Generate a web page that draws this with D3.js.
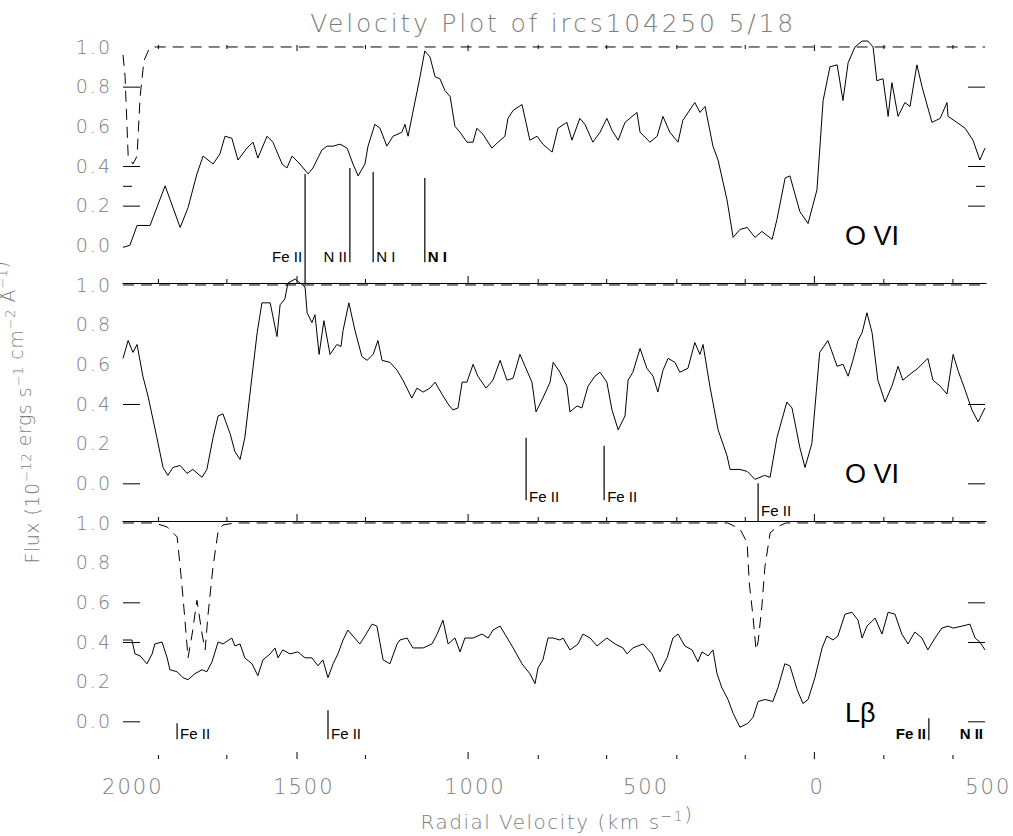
<!DOCTYPE html>
<html>
<head>
<meta charset="utf-8">
<script src="https://cdn.jsdelivr.net/npm/d3@7"></script>
<style>
  body { margin: 0; background: #fff; }
  svg text { font-family: "Liberation Sans", Arial, sans-serif; }
  .axt { fill: #7d7d7d; font-family: "DejaVu Sans", sans-serif; font-weight: 200; }
</style>
</head>
<body>
<div id="chart"></div>
<script>

// ---- data (velocity km/s, normalised flux) ----

var titleText = "Velocity Plot of ircs104250  5/18";

// O VI panel (top)
var obsP1 = [[2027,-0.01],[2007,0.0],[1986,0.10],[1948,0.10],[1904,0.30],[1860,0.09],[1837,0.19],[1811,0.36],[1793,0.45],[1764,0.41],[1744,0.46],[1729,0.55],[1709,0.54],[1691,0.43],[1665,0.49],[1647,0.52],[1633,0.44],[1606,0.55],[1589,0.52],[1562,0.41],[1548,0.39],[1533,0.45],[1510,0.41],[1486,0.36],[1472,0.39],[1446,0.48],[1431,0.50],[1413,0.50],[1393,0.51],[1372,0.49],[1355,0.41],[1340,0.35],[1320,0.41],[1311,0.50],[1291,0.61],[1276,0.59],[1256,0.50],[1238,0.55],[1212,0.57],[1203,0.61],[1194,0.55],[1180,0.67],[1159,0.85],[1145,0.98],[1130,0.95],[1115,0.85],[1101,0.84],[1086,0.78],[1071,0.75],[1057,0.60],[1042,0.57],[1022,0.52],[1004,0.52],[993,0.59],[975,0.56],[949,0.49],[931,0.52],[911,0.55],[902,0.64],[887,0.68],[861,0.71],[838,0.53],[817,0.55],[800,0.51],[773,0.47],[756,0.59],[730,0.62],[715,0.53],[692,0.64],[677,0.61],[654,0.52],[633,0.57],[613,0.64],[598,0.58],[580,0.53],[560,0.62],[525,0.67],[516,0.57],[487,0.52],[466,0.55],[449,0.65],[429,0.57],[405,0.52],[391,0.63],[356,0.72],[341,0.67],[326,0.70],[303,0.50],[288,0.43],[262,0.23],[244,0.04],[224,0.08],[203,0.09],[180,0.04],[160,0.07],[130,0.03],[116,0.13],[92,0.34],[78,0.35],[49,0.17],[25,0.11],[-1,0.28],[-19,0.73],[-39,0.90],[-60,0.91],[-77,0.73],[-92,0.92],[-112,1.00],[-133,1.03],[-150,1.03],[-165,1.00],[-176,0.83],[-194,0.84],[-209,0.65],[-220,0.82],[-238,0.65],[-258,0.72],[-273,0.70],[-293,0.91],[-308,0.80],[-337,0.62],[-361,0.64],[-381,0.72],[-384,0.65],[-410,0.62],[-434,0.59],[-457,0.53],[-477,0.43],[-492,0.49]];
var modelP1 = [[2027,0.96],[2021,0.85],[2012,0.45],[1998,0.41],[1986,0.45],[1977,0.75],[1966,0.93],[1951,0.99],[1939,1.0],[-492,1.0]];

// O VI panel (middle)
var obsP2 = [[2027,0.63],[2012,0.72],[1998,0.66],[1986,0.70],[1969,0.54],[1954,0.44],[1928,0.23],[1910,0.08],[1896,0.04],[1881,0.08],[1860,0.09],[1840,0.05],[1823,0.07],[1796,0.03],[1782,0.07],[1764,0.23],[1749,0.34],[1735,0.35],[1714,0.25],[1700,0.16],[1685,0.12],[1671,0.23],[1650,0.54],[1635,0.76],[1621,0.91],[1597,0.91],[1577,0.74],[1568,0.90],[1554,0.93],[1545,1.01],[1524,1.03],[1495,0.99],[1489,0.86],[1475,0.81],[1466,0.85],[1454,0.65],[1440,0.82],[1422,0.65],[1402,0.70],[1390,0.69],[1384,0.77],[1367,0.91],[1349,0.77],[1329,0.64],[1314,0.62],[1296,0.65],[1282,0.72],[1270,0.62],[1247,0.61],[1226,0.57],[1209,0.52],[1183,0.43],[1168,0.48],[1150,0.46],[1130,0.48],[1115,0.51],[1095,0.45],[1077,0.40],[1063,0.37],[1048,0.38],[1036,0.51],[1022,0.51],[1004,0.60],[990,0.54],[966,0.48],[946,0.52],[925,0.62],[905,0.52],[887,0.53],[867,0.65],[852,0.59],[832,0.51],[820,0.36],[800,0.43],[779,0.51],[770,0.61],[750,0.56],[730,0.49],[721,0.36],[700,0.39],[686,0.38],[668,0.49],[648,0.54],[633,0.56],[613,0.51],[598,0.37],[580,0.27],[560,0.34],[551,0.52],[537,0.56],[516,0.68],[496,0.58],[478,0.54],[464,0.46],[449,0.57],[434,0.63],[414,0.61],[400,0.56],[376,0.58],[356,0.71],[341,0.65],[332,0.70],[312,0.49],[288,0.27],[262,0.14],[253,0.07],[224,0.07],[203,0.06],[180,0.02],[152,0.04],[136,0.03],[116,0.23],[87,0.41],[72,0.38],[49,0.18],[34,0.08],[14,0.20],[-9,0.66],[-33,0.72],[-60,0.59],[-77,0.60],[-92,0.54],[-106,0.62],[-121,0.72],[-133,0.76],[-147,0.86],[-162,0.76],[-179,0.52],[-200,0.41],[-220,0.49],[-238,0.59],[-252,0.52],[-273,0.55],[-296,0.58],[-325,0.63],[-340,0.52],[-361,0.49],[-381,0.45],[-399,0.65],[-413,0.57],[-434,0.47],[-454,0.37],[-472,0.31],[-492,0.38]];
var modelP2 = [[2027,1.0],[-492,1.0]];

// L beta panel (bottom)
var obsP3 = [[2027,0.41],[2001,0.41],[1992,0.34],[1977,0.33],[1957,0.29],[1942,0.34],[1934,0.39],[1913,0.40],[1898,0.32],[1890,0.26],[1869,0.25],[1852,0.22],[1837,0.21],[1817,0.24],[1796,0.26],[1782,0.25],[1767,0.30],[1749,0.40],[1735,0.39],[1709,0.42],[1700,0.38],[1685,0.39],[1671,0.32],[1650,0.29],[1633,0.23],[1618,0.31],[1597,0.34],[1583,0.37],[1574,0.32],[1560,0.36],[1539,0.34],[1516,0.35],[1495,0.32],[1475,0.32],[1457,0.28],[1443,0.31],[1428,0.22],[1413,0.29],[1399,0.34],[1384,0.41],[1370,0.46],[1355,0.43],[1335,0.39],[1320,0.43],[1299,0.49],[1285,0.48],[1267,0.31],[1247,0.29],[1226,0.39],[1218,0.41],[1197,0.42],[1180,0.37],[1150,0.37],[1124,0.39],[1109,0.44],[1092,0.51],[1077,0.39],[1057,0.42],[1042,0.35],[1028,0.42],[1004,0.42],[978,0.44],[960,0.42],[946,0.46],[925,0.48],[911,0.44],[887,0.37],[861,0.29],[838,0.24],[823,0.19],[814,0.27],[800,0.31],[785,0.42],[770,0.42],[750,0.41],[741,0.42],[721,0.36],[697,0.39],[683,0.44],[662,0.42],[642,0.38],[613,0.42],[589,0.39],[566,0.37],[554,0.34],[537,0.37],[507,0.39],[481,0.34],[458,0.25],[437,0.32],[420,0.42],[405,0.44],[385,0.38],[364,0.36],[347,0.30],[335,0.35],[317,0.33],[303,0.36],[291,0.24],[277,0.17],[259,0.11],[244,0.04],[224,-0.03],[201,-0.01],[186,0.02],[171,0.10],[151,0.11],[128,0.10],[113,0.17],[93,0.29],[78,0.28],[57,0.16],[40,0.09],[25,0.11],[5,0.22],[-16,0.37],[-30,0.43],[-48,0.41],[-62,0.43],[-83,0.54],[-103,0.55],[-121,0.51],[-133,0.42],[-147,0.48],[-171,0.52],[-191,0.44],[-209,0.55],[-229,0.54],[-249,0.44],[-267,0.39],[-287,0.45],[-308,0.42],[-325,0.36],[-346,0.42],[-366,0.47],[-384,0.48],[-399,0.47],[-425,0.48],[-448,0.49],[-463,0.42],[-477,0.40],[-492,0.36]];
var modelP3 = [[2027,1.0],[1935,1.0],[1898,0.98],[1869,0.93],[1860,0.78],[1852,0.63],[1846,0.51],[1837,0.32],[1825,0.44],[1811,0.61],[1796,0.44],[1787,0.36],[1779,0.53],[1764,0.78],[1749,0.96],[1735,0.99],[1700,1.0],[260,1.0],[224,0.97],[203,0.90],[197,0.70],[186,0.53],[177,0.36],[171,0.40],[160,0.58],[151,0.78],[136,0.95],[116,0.98],[90,1.0],[-492,1.0]];

// line identifications: velocity, label, flux span of the marker, flux of label baseline, label side
var idsP1 = [
  {v: 1495, name: "Fe II", hi: 0.36, lo: -0.19, at: -0.086, side: "left"},
  {v: 1364, name: "N II", hi: 0.39, lo: -0.086, at: -0.086, side: "left"},
  {v: 1296, name: "N I", hi: 0.37, lo: -0.086, at: -0.086, side: "right"},
  {v: 1145, name: "N I", hi: 0.34, lo: -0.086, at: -0.086, side: "right", bold: true}
];
var idsP2 = [
  {v: 849, name: "Fe II", hi: 0.23, lo: -0.086, at: -0.096, side: "right"},
  {v: 621, name: "Fe II", hi: 0.19, lo: -0.086, at: -0.096, side: "right"},
  {v: 171, name: "Fe II", hi: 0.0, lo: -0.19, at: -0.165, side: "right"}
];
var idsP3 = [
  {v: 1869, name: "Fe II", hi: -0.01, lo: -0.09, at: -0.09, side: "right"},
  {v: 1428, name: "Fe II", hi: 0.056, lo: -0.09, at: -0.09, side: "right"},
  {v: -328, name: "Fe II", hi: 0.015, lo: -0.095, at: -0.09, side: "left", bold: true},
  {v: -495, name: "N II", hi: -0.09, lo: -0.09, at: -0.09, side: "left", bold: true}
];

var ionP1 = "O VI", ionP2 = "O VI", ionP3 = "Lβ";

// axis ticks
var xLabelVals = [2000, 1500, 1000, 500, 0, -500];
var xLabelText = ["2000", "1500", "1000", "500", "0", "500"];
var xTickVals = [1925, 1725, 1320, 815, 615, 410, 210, -195, -397];
var xMajorVals = [1520, 1020, 8];
var yLabelVals = [0, 0.2, 0.4, 0.6, 0.8, 1.0];
var yMarksP1 = [0.8, 0.4, 0.2], yMinorP1 = [0.3];
var yMarksP2 = [0.4, 0.0], yMinorP2 = [];
var yMarksP3 = [0.6, 0.4, 0.0], yMinorP3 = [];

// ---- layout ----
var W = 1013, H = 836;
var left = 122, right = 986;
var panelTop = [45, 283, 521], panelH = 238;

var svg = d3.select("#chart").append("svg")
    .attr("width", W).attr("height", H);

var x = d3.scaleLinear().domain([2030, -495]).range([left, right]);

var panels = [
  {obs: obsP1, model: modelP1, ids: idsP1, ion: ionP1, marks: yMarksP1, minor: yMinorP1},
  {obs: obsP2, model: modelP2, ids: idsP2, ion: ionP2, marks: yMarksP2, minor: yMinorP2},
  {obs: obsP3, model: modelP3, ids: idsP3, ion: ionP3, marks: yMarksP3, minor: yMinorP3}
];

function styleAxis(g, showDomain) {
  g.selectAll(".tick line").attr("stroke", "#000").attr("stroke-width", 1);
  g.select(".domain").attr("stroke", showDomain ? "#000" : "none");
  return g;
}

panels.forEach(function(p, i) {
  var top = panelTop[i];
  var y = d3.scaleLinear().domain([-0.19, 1.01]).range([top + panelH, top]);
  var g = svg.append("g").attr("class", "panel");

  var line = d3.line().x(function(d) { return x(d[0]); }).y(function(d) { return y(d[1]); });

  // model (dashed)
  g.append("path").datum(p.model)
    .attr("d", line).attr("fill", "none")
    .attr("stroke", "#000").attr("stroke-width", 1)
    .attr("stroke-dasharray", "11,7");

  // observed spectrum
  g.append("path").datum(p.obs)
    .attr("d", line).attr("fill", "none")
    .attr("stroke", "#000").attr("stroke-width", 1);

  // top x ticks (solid frame line between panels)
  if (i === 0) {
    styleAxis(g.append("g").attr("transform", "translate(0," + top + ")")
      .call(d3.axisBottom(x).tickValues(xTickVals).tickSize(4).tickSizeOuter(0).tickFormat("")), false);
    styleAxis(g.append("g").attr("transform", "translate(0," + top + ")")
      .call(d3.axisBottom(x).tickValues(xMajorVals).tickSize(6).tickSizeOuter(0).tickFormat("")), false);
  } else {
    styleAxis(g.append("g").attr("transform", "translate(0," + top + ")")
      .call(d3.axisTop(x).tickValues(xTickVals).tickSize(4).tickSizeOuter(0).tickFormat("")), true);
    styleAxis(g.append("g").attr("transform", "translate(0," + top + ")")
      .call(d3.axisTop(x).tickValues(xMajorVals).tickSize(7).tickSizeOuter(0).tickFormat("")), false);
  }

  // y labels
  var yl = g.append("g").attr("transform", "translate(" + left + ",0)")
    .call(d3.axisLeft(y).tickValues(yLabelVals).tickSize(0).tickPadding(10).tickFormat(d3.format(".1f")));
  yl.select(".domain").remove();
  yl.selectAll("text").attr("class", "axt").style("font-size", "19px").style("letter-spacing", "2px");

  // y tick marks, left and right
  styleAxis(g.append("g").attr("transform", "translate(" + (left + 1) + ",0)")
    .call(d3.axisLeft(y).tickValues(p.marks).tickSize(-17).tickSizeOuter(0).tickFormat("")), false);
  styleAxis(g.append("g").attr("transform", "translate(" + (left + 1) + ",0)")
    .call(d3.axisLeft(y).tickValues(p.minor).tickSize(-9).tickSizeOuter(0).tickFormat("")), false);
  styleAxis(g.append("g").attr("transform", "translate(" + (right - 1) + ",0)")
    .call(d3.axisRight(y).tickValues(p.marks).tickSize(-17).tickSizeOuter(0).tickFormat("")), false);
  styleAxis(g.append("g").attr("transform", "translate(" + (right - 1) + ",0)")
    .call(d3.axisRight(y).tickValues(p.minor).tickSize(-9).tickSizeOuter(0).tickFormat("")), false);

  // line identifications
  p.ids.forEach(function(d) {
    var xv = x(d.v);
    g.append("line")
      .attr("x1", xv).attr("x2", xv)
      .attr("y1", y(d.hi)).attr("y2", y(d.lo))
      .attr("stroke", "#000").attr("stroke-width", 1.2);
    g.append("text")
      .attr("x", d.side === "left" ? xv - 3 : xv + 3)
      .attr("y", y(d.at))
      .attr("text-anchor", d.side === "left" ? "end" : "start")
      .style("font-size", "15px")
      .style("font-weight", d.bold ? "bold" : "normal")
      .text(d.name);
  });

  // ion label
  g.append("text")
    .attr("x", 845).attr("y", y(0) + (i === 2 ? 1 : 0))
    .style("font-size", "27px")
    .text(p.ion);
});

// bottom x axis: ticks then labels
var bottom = panelTop[2] + panelH;
styleAxis(svg.append("g").attr("transform", "translate(0," + bottom + ")")
  .call(d3.axisBottom(x).tickValues(xTickVals).tickSize(-4).tickSizeOuter(0).tickFormat("")), false);
styleAxis(svg.append("g").attr("transform", "translate(0," + bottom + ")")
  .call(d3.axisBottom(x).tickValues(xMajorVals).tickSize(-7).tickSizeOuter(0).tickFormat("")), false);

var xl = svg.append("g").attr("transform", "translate(0," + bottom + ")")
  .call(d3.axisBottom(x).tickValues(xLabelVals).tickSize(0).tickPadding(20)
    .tickFormat(function(d, k) { return xLabelText[k]; }));
xl.select(".domain").remove();
xl.selectAll("text").attr("class", "axt").style("font-size", "21px").style("letter-spacing", "2px");

// title
svg.append("text")
  .attr("class", "axt")
  .attr("x", 553).attr("y", 32)
  .attr("text-anchor", "middle")
  .style("font-size", "25px")
  .style("letter-spacing", "2.8px")
  .text(titleText);

// superscript helper
function supText(sel, parts, size, rise) {
  parts.forEach(function(pt) {
    if (pt.sup) {
      sel.append("tspan").attr("dy", -rise).style("font-size", (size * 0.7) + "px").text(pt.t);
      sel.append("tspan").attr("dy", rise).text("");
    } else {
      sel.append("tspan").text(pt.t);
    }
  });
}

// x title
var xt = svg.append("text")
  .attr("class", "axt")
  .attr("x", 557).attr("y", 829)
  .attr("text-anchor", "middle")
  .style("font-size", "20px")
  .style("letter-spacing", "1.5px");
supText(xt, [{t: "Radial Velocity (km s"}, {t: "−1", sup: true}, {t: ")"}], 20, 8);

// y title
var yt = svg.append("text")
  .attr("class", "axt")
  .attr("transform", "translate(39,412) rotate(-90)")
  .attr("text-anchor", "middle")
  .style("font-size", "19px")
  .style("letter-spacing", "0.5px");
supText(yt, [{t: "Flux (10"}, {t: "−12", sup: true}, {t: " ergs s"}, {t: "−1", sup: true},
  {t: " cm"}, {t: "−2", sup: true}, {t: " Å"}, {t: "−1", sup: true}, {t: ")"}], 19, 8);

</script>
</body>
</html>
